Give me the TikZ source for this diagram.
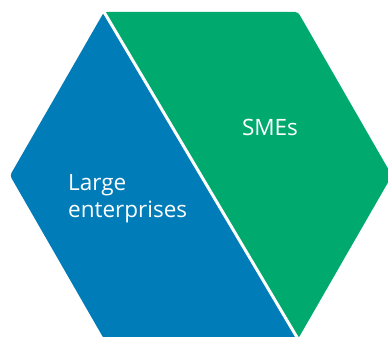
\documentclass[tikz,border=0pt]{standalone}
\usepackage{fontspec}
\setmainfont{Open Sans}
\usetikzlibrary{positioning}
\definecolor{entblue}{RGB}{0,124,184}
\definecolor{smegreen}{RGB}{0,170,111}

\begin{document}
\begin{tikzpicture}
		[x=1pt, y=-1pt,
		 half/.style = {rounded corners=3pt},
		 lbl/.style = {text=white, inner sep=0pt, font=\fontsize{22.5}{27}\selectfont, align=left}]
		\useasboundingbox (0,0) rectangle (388,337);
		\coordinate (tl) at (104,12);
		\coordinate (tr) at (298,12);
		\coordinate (r) at (392,175.5);
		\coordinate (br) at (298,339);
		\coordinate (bl) at (104,339);
		\coordinate (l) at (10,175.5);
		\fill[half, entblue] (tl) -- (l) -- (bl) -- (br) -- cycle;
		\fill[half, smegreen] (tl) -- (tr) -- (r) -- (br) -- cycle;
		\draw[white, line width=3pt] (tl) -- (br);
		\node[lbl, anchor=base] (sme) at (270,135) {SMEs};
		\node[lbl, anchor=base west] (large) at (68,217) {Large\\enterprises};
\end{tikzpicture}
\end{document}
